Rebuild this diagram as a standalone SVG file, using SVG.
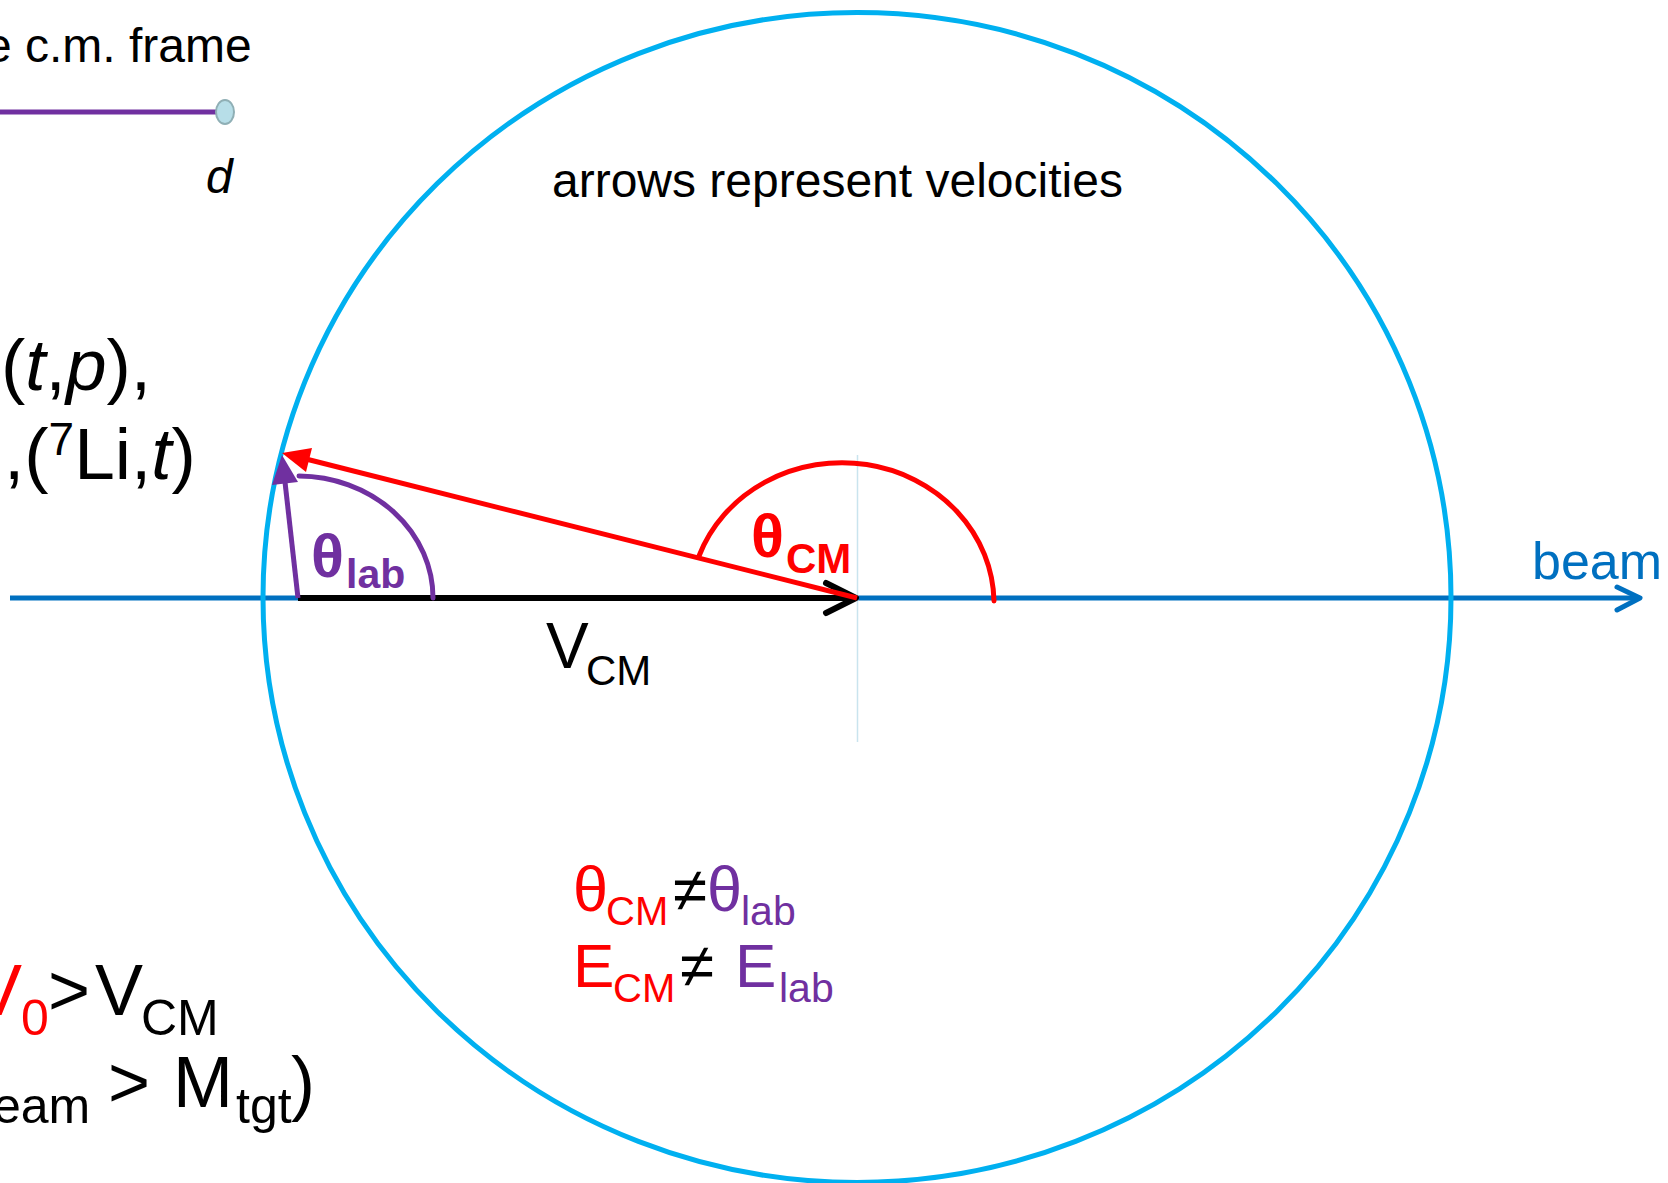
<svg xmlns="http://www.w3.org/2000/svg" width="1668" height="1183" viewBox="0 0 1668 1183">
<style>
text{font-family:"Liberation Sans",Arial,Helvetica,sans-serif;}
.k{fill:#000}
.r{fill:#FF0000}
.p{fill:#7030A0}
.b{fill:#0070C0}
.bd{font-weight:bold}
.it{font-style:italic}
.ln{fill:none;stroke-linecap:round;stroke-linejoin:round}
</style>
<rect width="1668" height="1183" fill="#fff"/>
<g id="connectors">
  <line id="beam-axis" x1="10" y1="598" x2="1638" y2="598" stroke="#0070C0" stroke-width="5"/>
  <polyline points="1617,587 1640,598 1617,610" class="ln" stroke="#0070C0" stroke-width="5"/>
</g>
<g id="cm-sphere">
  <ellipse cx="857" cy="597.5" rx="594" ry="585" fill="none" stroke="#00B0F0" stroke-width="5"/>
  <line x1="857.5" y1="455" x2="857.5" y2="742" stroke="#C9E4EE" stroke-width="1.5"/>
</g>
<g id="vcm-vector">
  <line x1="298" y1="598" x2="854" y2="598" stroke="#000" stroke-width="6"/>
  <polyline points="826,583 856,598 826,613" class="ln" stroke="#000" stroke-width="6"/>
</g>
<g id="cm-velocity">
  <line x1="857" y1="598" x2="306" y2="459" stroke="#FF0000" stroke-width="5"/>
  <polygon points="282,453 312,448 306,472" fill="#FF0000"/>
  <path d="M 699 556 A 152 141 0 0 1 994 601" class="ln" stroke="#FF0000" stroke-width="5" stroke-linecap="butt"/>
</g>
<g id="lab-velocity">
  <path d="M 299 476 A 135 122 0 0 1 433 598" class="ln" stroke="#7030A0" stroke-width="5" stroke-linecap="butt"/>
  <line x1="298" y1="598" x2="285" y2="482" stroke="#7030A0" stroke-width="5"/>
  <polygon points="282,455 298,482 272,485" fill="#7030A0"/>
</g>
<g id="legend">
  <text x="-15" y="62" font-size="48" class="k">e c.m. frame</text>
  <line x1="0" y1="112" x2="216" y2="112" stroke="#7030A0" stroke-width="5"/>
  <ellipse cx="225" cy="112" rx="9" ry="12" fill="#B7DEE8" stroke="#8FAFB5" stroke-width="2"/>
  <text x="206" y="193" font-size="48" class="k it">d</text>
</g>
<g id="label-arrows">
  <text x="552" y="197" font-size="48" class="k">arrows represent velocities</text>
</g>
<g id="label-reactions">
  <text x="1" y="390" font-size="73" class="k">(<tspan class="it">t</tspan>,<tspan class="it">p</tspan>),</text>
  <text x="4" y="479" font-size="73" class="k">,(<tspan font-size="46" dy="-24">7</tspan><tspan dy="24">Li,</tspan><tspan class="it">t</tspan>)</text>
</g>
<g id="label-beam">
  <text x="1532" y="579" font-size="52" class="b">beam</text>
</g>
<g id="label-vcm">
  <text x="546" y="668" font-size="64" class="k">V</text>
  <text x="586" y="685" font-size="42" class="k">CM</text>
</g>
<g id="label-theta-cm">
  <text x="751" y="557" font-size="61" class="r bd">θ</text>
  <text x="786" y="573" font-size="42" class="r bd">CM</text>
</g>
<g id="label-theta-lab">
  <text x="311" y="577" font-size="61" class="p bd">θ</text>
  <text x="346" y="588" font-size="41" class="p bd">lab</text>
</g>
<g id="label-inequalities">
  <text x="573" y="911" font-size="63" class="r">θ</text>
  <text x="606" y="925" font-size="40" class="r">CM</text>
  <text x="673" y="911" font-size="62" class="k">≠</text>
  <text x="707" y="911" font-size="63" class="p">θ</text>
  <text x="741" y="925" font-size="41" class="p">lab</text>
  <text x="573" y="987" font-size="62" class="r">E</text>
  <text x="613" y="1002" font-size="40" class="r">CM</text>
  <text x="680" y="987" font-size="62" class="k">≠</text>
  <text x="735" y="987" font-size="62" class="p">E</text>
  <text x="779" y="1002" font-size="41" class="p">lab</text>
</g>
<g id="label-condition">
  <text x="-26" y="1015" font-size="72" class="r">V</text>
  <text x="21" y="1035" font-size="50" class="r">0</text>
  <text x="48" y="1015" font-size="72" class="k">&gt;</text>
  <text x="95" y="1015" font-size="72" class="k">V</text>
  <text x="141" y="1035" font-size="50" class="k">CM</text>
  <text x="-7" y="1123" font-size="50" class="k">eam</text>
  <text x="108" y="1107" font-size="72" class="k">&gt;</text>
  <text x="173" y="1107" font-size="72" class="k">M</text>
  <text x="236" y="1123" font-size="50" class="k">tgt</text>
  <text x="291" y="1107" font-size="72" class="k">)</text>
</g>
</svg>
